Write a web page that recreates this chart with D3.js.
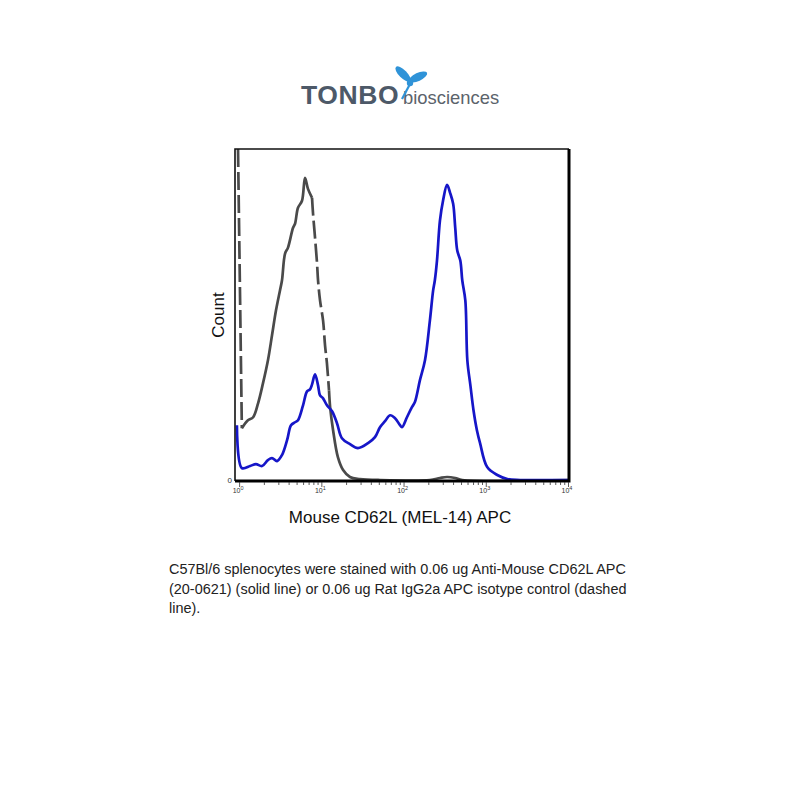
<!DOCTYPE html>
<html>
<head>
<meta charset="utf-8">
<script src="https://cdn.jsdelivr.net/npm/d3@7"></script>
<style>
  body { margin: 0; background: #fff; }
  svg { display: block; font-family: "Liberation Sans", Arial, sans-serif; }
</style>
</head>
<body>
<div id="chart-container"></div>
<script>
// fluorescence values (x) and counts in % of max (y)
const blueX = [0.94, 1.08, 1.36, 1.6, 1.9, 2.24, 2.51, 2.89, 3.32, 3.83, 4.28, 4.79, 5.2, 5.99, 6.7, 7.28,
  7.71, 8.38, 9.12, 9.64, 10.5, 11.7, 13.5, 15.5, 17.8, 22.3, 27.9, 37, 44.9, 51.7, 59.5, 68.5, 78.8,
  90.6, 95.6, 110, 126, 137, 158, 182, 209, 229, 240, 255, 277, 302, 338, 368, 401, 425, 450, 490,
  518, 564, 597, 650, 709, 780, 852, 1040, 1380, 1830, 2620, 10000];
const blueY = [16.8, 3.9, 4.5, 5.1, 4.5, 6.3, 6.9, 6.0, 7.8, 12.3, 16.8, 17.7, 18.3, 22.8, 27.0, 27.6,
  29.1, 32.1, 28.8, 25.8, 24.9, 22.8, 21.0, 17.4, 12.9, 11.1, 9.9, 11.4, 13.2, 16.2, 18.0, 19.8, 18.9,
  16.8, 16.2, 19.2, 22.2, 23.7, 30.3, 36.3, 48.3, 57.4, 60.4, 66.4, 78.4, 84.4, 89.2, 86.8, 83.5, 76.3,
  69.4, 66.4, 60.4, 54.4, 36.3, 28.8, 21.3, 15.3, 11.4, 4.2, 1.8, 0.6, 0.3, 0.3];

const grayX = [0.97, 1.08, 1.28, 1.48, 1.7, 1.95, 2.24, 2.51, 2.81, 3.14, 3.32, 3.62, 3.93, 4.53, 4.79,
  5.2, 5.82, 6.33, 6.88, 7.71, 7.93, 8.38, 8.87, 9.12, 9.64, 10.5, 11.1, 11.7, 12.4, 12.8, 13.9, 15.9,
  18.4, 22.3, 29.5, 51.7, 209, 277, 338, 425, 518, 10000];
const grayY = [100, 15.9, 18.3, 19.2, 23.4, 29.4, 36.3, 43.8, 51.4, 57.4, 60.4, 68.5, 70.3, 76.3, 77.5,
  82.3, 84.4, 91.3, 88.0, 85.3, 80.5, 73.3, 65.5, 60.4, 54.4, 48.3, 40.8, 35.4, 27.3, 22.2, 15.3, 7.2,
  3.3, 1.2, 0.6, 0.3, 0.3, 0.9, 1.2, 0.9, 0.3, 0.3];
// index ranges of the gray curve drawn dashed
const grayDashed = [[0, 1], [19, 28]];

const majorTicks = [1, 10, 100, 1000, 10000];
const tickExponents = ["0", "1", "2", "3", "4"];

const captionLines = [
  "C57Bl/6 splenocytes were stained with 0.06 ug Anti-Mouse CD62L APC",
  "(20-0621) (solid line) or 0.06 ug Rat IgG2a APC isotype control (dashed",
  "line)."
];

const frame = { left: 235, right: 569, top: 149, bottom: 481 };

const svg = d3.select("#chart-container")
  .append("svg")
  .attr("width", 800)
  .attr("height", 800);

// logo
const logo = svg.append("g");
logo.append("text")
  .attr("x", 301).attr("y", 104)
  .style("font-size", "26.5px").style("font-weight", "bold")
  .style("fill", "#4d5968").style("letter-spacing", "0.6px")
  .text("TONBO");
logo.append("text")
  .attr("x", 403).attr("y", 104)
  .style("font-size", "18.4px").style("fill", "#5b636b")
  .text("biosciences");
// dragonfly
const fly = logo.append("g").attr("fill", "#2f93d8");
fly.append("ellipse").attr("cx", 403).attr("cy", 74).attr("rx", 10).attr("ry", 4)
  .attr("transform", "rotate(45 403 74)");
fly.append("ellipse").attr("cx", 418).attr("cy", 77).attr("rx", 10).attr("ry", 4)
  .attr("transform", "rotate(-25 418 77)");
fly.append("ellipse").attr("cx", 410).attr("cy", 83).attr("rx", 3.2).attr("ry", 3.2);
fly.append("path")
  .attr("d", "M410,84 L402,99")
  .attr("stroke", "#2f93d8").attr("stroke-width", 2.2);

const x = d3.scaleLog()
  .domain([Math.pow(10, -0.05), 10000])
  .range([frame.left, frame.right - 1]);
const y = d3.scaleLinear()
  .domain([0, 100])
  .range([frame.bottom, frame.top]);

const plot = svg.append("g");

plot.append("clipPath").attr("id", "clip")
  .append("rect")
  .attr("x", frame.left).attr("y", frame.top)
  .attr("width", frame.right - frame.left).attr("height", frame.bottom - frame.top);

const line = d3.line()
  .x((d) => x(d[0]))
  .y((d) => y(d[1]))
  .curve(d3.curveCatmullRom.alpha(0.5));

const grayPts = grayX.map((v, i) => [v, grayY[i]]);
const bluePts = blueX.map((v, i) => [v, blueY[i]]);

// split gray into solid / dashed pieces
let pieces = [];
let cursor = 0;
grayDashed.forEach(([a, b]) => {
  if (a > cursor) pieces.push({ pts: grayPts.slice(cursor, a + 1), dash: false });
  pieces.push({ pts: grayPts.slice(a, b + 1), dash: true });
  cursor = b;
});
pieces.push({ pts: grayPts.slice(cursor), dash: false });

const curves = plot.append("g").attr("clip-path", "url(#clip)");
curves.selectAll(".gray")
  .data(pieces)
  .enter()
  .append("path")
  .attr("class", "gray")
  .attr("d", (d) => line(d.pts))
  .attr("fill", "none")
  .attr("stroke", "#4a4a4a")
  .attr("stroke-width", 2.7)
  .attr("stroke-linejoin", "round")
  .attr("stroke-dasharray", (d) => (d.dash ? "18,5" : null));

curves.append("path")
  .datum(bluePts)
  .attr("d", line)
  .attr("fill", "none")
  .attr("stroke", "#1616c8")
  .attr("stroke-width", 2.7)
  .attr("stroke-linejoin", "round");

// frame
plot.append("path")
  .attr("d", `M${frame.left},${frame.bottom} V${frame.top} H${frame.right}`)
  .attr("fill", "none").attr("stroke", "#111").attr("stroke-width", 1.6);
plot.append("path")
  .attr("d", `M${frame.left},${frame.bottom} H${frame.right} V${frame.top}`)
  .attr("fill", "none").attr("stroke", "#000").attr("stroke-width", 3);

// axis ticks
const minorTicks = [];
for (let k = 0; k < 4; k++) {
  for (let m = 2; m <= 9; m++) minorTicks.push(m * Math.pow(10, k));
}
const axisG = plot.append("g").attr("transform", `translate(0,${frame.bottom + 1})`);
axisG.call(d3.axisBottom(x).tickValues(minorTicks).tickSize(3).tickFormat(""));
axisG.call((g) => g.select(".domain").remove());
const majorG = plot.append("g").attr("transform", `translate(0,${frame.bottom + 1})`);
majorG.call(d3.axisBottom(x).tickValues(majorTicks).tickSize(5).tickFormat(""));
majorG.call((g) => g.select(".domain").remove());
plot.selectAll(".tick line").attr("stroke", "#333").attr("stroke-width", 0.8);

const labels = plot.append("g");
majorTicks.forEach((v, i) => {
  const t = labels.append("text")
    .attr("x", x(v) - 1)
    .attr("y", frame.bottom + 12)
    .attr("text-anchor", "middle")
    .style("font-size", "7px")
    .style("fill", "#333");
  t.append("tspan").text("10");
  t.append("tspan").attr("dy", -3).style("font-size", "5.5px").text(tickExponents[i]);
});

plot.append("text")
  .attr("x", frame.left - 3).attr("y", frame.bottom + 2)
  .attr("text-anchor", "end")
  .style("font-size", "8px").style("fill", "#333")
  .text("0");

// axis titles
svg.append("text")
  .attr("x", 400).attr("y", 523)
  .attr("text-anchor", "middle")
  .style("font-size", "17px").style("fill", "#111")
  .text("Mouse CD62L (MEL-14) APC");
svg.append("text")
  .attr("transform", "translate(224,315) rotate(-90)")
  .attr("text-anchor", "middle")
  .style("font-size", "17px").style("fill", "#111")
  .text("Count");

// caption
svg.append("g")
  .selectAll("text")
  .data(captionLines)
  .enter()
  .append("text")
  .attr("x", 169)
  .attr("y", (d, i) => 574 + i * 19.5)
  .style("font-size", "14.45px").style("fill", "#222")
  .text((d) => d);
</script>
</body>
</html>
